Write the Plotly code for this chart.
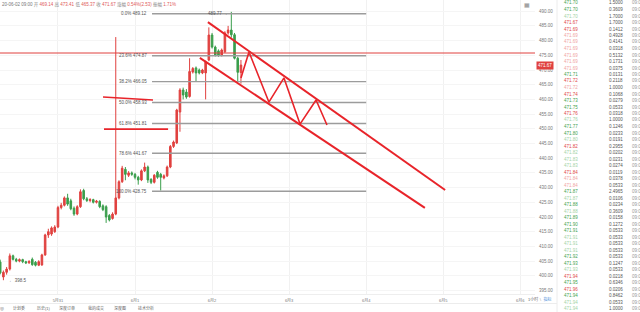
import plotly.graph_objects as go

# ---------------- data ----------------
hours = list(range(-42, 34))  # hourly candles, 0 = 6月1 00:00
opens = [404.7, 399.6, 401.2, 402.3, 406.8, 405.6, 405.0, 405.5, 404.8, 404.4, 405.6, 404.6, 403.6,
         403.7, 407.1, 413.9, 414.2, 415.0, 416.6, 423.2, 424.0, 426.5, 425.5, 423.0, 421.0, 423.5,
         429.0, 426.2, 425.6, 425.9, 425.0, 425.3, 423.8, 423.5, 420.5, 419.5, 421.0, 426.5, 432.0,
         436.2, 434.2, 435.0, 434.5, 433.5, 432.6, 435.7, 437.0, 432.8, 431.8, 435.2, 434.5, 433.3,
         434.0, 437.0, 444.0, 445.2, 455.7, 463.2, 462.5, 461.0, 469.3, 470.7, 470.0, 469.0, 469.0,
         473.4, 481.9, 477.8, 476.5, 475.0, 476.2, 482.6, 483.6, 482.0, 474.0, 469.14]
highs = [405.5, 401.8, 403.0, 407.6, 407.2, 406.1, 405.9, 405.8, 405.1, 405.3, 406.2, 405.0, 405.3,
         407.5, 414.3, 416.0, 416.8, 417.2, 423.8, 424.8, 427.0, 427.9, 426.2, 423.6, 424.0, 429.4,
         429.6, 426.8, 426.4, 426.2, 425.8, 425.7, 424.3, 424.0, 421.0, 421.6, 481.2, 432.5, 437.4,
         437.0, 435.6, 435.5, 435.0, 434.0, 436.2, 438.5, 437.5, 433.2, 434.6, 435.7, 435.0, 434.5,
         437.5, 444.5, 446.0, 456.8, 463.8, 464.0, 463.5, 474.0, 471.0, 471.2, 470.5, 470.4, 473.2,
         484.5, 482.6, 478.3, 477.0, 477.3, 483.2, 485.0, 489.77, 482.6, 474.5, 473.41]
lows = [400.5, 398.5, 400.4, 401.8, 405.2, 404.6, 404.6, 404.3, 404.0, 404.1, 403.4, 403.2, 403.3,
        403.4, 406.8, 412.9, 413.6, 414.6, 416.2, 422.6, 423.6, 423.8, 422.3, 420.4, 420.6, 423.1,
        425.7, 425.1, 425.0, 424.6, 424.6, 423.0, 422.0, 418.0, 418.5, 419.1, 420.6, 426.0, 431.6,
        432.5, 433.6, 434.0, 432.8, 431.0, 432.2, 435.3, 431.6, 431.2, 431.4, 433.0, 429.0, 432.8,
        433.6, 436.6, 443.5, 444.8, 449.0, 460.0, 460.2, 460.6, 468.8, 466.0, 468.5, 468.6, 460.0,
        473.0, 477.3, 474.6, 474.5, 474.6, 475.8, 482.0, 481.0, 473.6, 466.2, 465.37]
closes = [401.0, 401.2, 402.3, 406.8, 405.6, 405.0, 405.5, 404.8, 404.4, 404.9, 403.8, 403.6, 404.8,
          407.1, 413.9, 415.0, 416.3, 416.6, 423.2, 424.0, 426.5, 424.4, 422.8, 421.0, 423.5, 428.6,
          426.2, 425.6, 425.9, 425.0, 425.4, 423.5, 422.5, 420.0, 419.0, 421.0, 426.5, 432.0, 436.6,
          434.5, 435.0, 434.5, 433.5, 432.6, 435.7, 437.0, 432.6, 431.8, 434.2, 433.5, 433.5, 434.0,
          437.0, 444.0, 445.5, 456.4, 463.2, 461.5, 460.8, 469.5, 470.5, 469.0, 469.0, 470.0, 472.7,
          481.9, 477.8, 475.1, 475.0, 476.8, 482.6, 483.6, 482.0, 474.0, 469.2, 471.67]

day_ticks = [-24, 0, 24, 48, 72, 96, 120]
day_labels = ["5月31", "6月1", "6月2", "6月3", "6月4", "6月5", "6月6"]
price_ticks = list(range(395, 491, 5))

fib_pct = ["0.0%", "23.6%", "38.2%", "50.0%", "61.8%", "78.6%", "100.0%"]
fib_vals = [489.12, 474.87, 466.05, 458.93, 451.81, 441.67, 428.75]
fib_span = [5.3, 72.0]
fib_label_h = 4.4

hline_price = 475.78
last_price = 471.67
low_mark = 398.5
high_mark = 489.77

# hand-drawn marks (hour, price)
chan_up_h = [22.7, 96.6]
chan_up_p = [486.3, 429.2]
chan_lo_h = [20.2, 90.3]
chan_lo_p = [474.1, 423.1]
zig_h = [33.0, 35.5, 41.7, 46.4, 51.4, 56.4, 59.8]
zig_p = [467.3, 476.1, 459.1, 467.3, 451.6, 459.8, 451.3]
cross1_h = [-9.97, 5.6]
cross1_p = [460.8, 459.8]
cross2_h = [-9.66, 10.3]
cross2_p = [449.9, 449.9]

header_date = "20-06-02 09:00"
header_items = [("开", "469.14"), ("高", "473.41"), ("低", "465.37"), ("收", "471.67"),
                ("涨幅", "0.54%(2.53)"), ("振幅", "1.71%")]

book_price = ["471.70", "471.70", "471.70", "471.67", "471.69", "471.69", "471.69", "471.69",
              "471.69", "471.69", "471.69", "471.71", "471.72", "471.72", "471.74", "471.73",
              "471.75", "471.76", "471.76", "471.77", "471.80", "471.80", "471.82", "471.82",
              "471.83", "471.83", "471.84", "471.84", "471.84", "471.87", "471.87", "471.88",
              "471.88", "471.89", "471.90", "471.91", "471.91", "471.91", "471.91", "471.92",
              "471.93", "471.93", "471.94", "471.95", "471.96", "471.94", "471.94", "471.94"]
book_side = ["g", "g", "lg", "r", "r", "lr", "lr", "lr", "lr", "lr", "lr", "g", "r", "lr", "r", "g",
             "g", "r", "lg", "g", "g", "lg", "r", "lg", "lg", "lg", "r", "lr", "lr", "g", "lg", "g",
             "lg", "g", "g", "g", "lg", "lg", "lg", "g", "g", "lg", "r", "g", "r", "g", "lg", "lg"]
book_amount = ["1.5000", "0.3609", "1.7000", "1.7000", "0.1412", "0.4928", "0.4141", "0.0318",
               "0.5132", "0.1731", "0.0375", "0.0131", "0.2118", "1.0000", "0.1068", "0.0279",
               "0.0533", "0.0318", "1.0000", "0.1246", "0.0233", "0.0191", "0.2955", "0.0202",
               "0.0231", "0.0274", "0.0119", "0.0378", "0.0533", "2.4965", "0.0106", "0.0234",
               "0.3609", "0.0158", "0.1272", "0.0533", "0.0533", "0.0533", "0.0533", "0.0533",
               "0.1247", "0.0533", "0.0218", "0.6346", "0.0206", "0.8462", "0.0533", "1.0000"]
book_time = "09:0"

toolbar = ["计划委", "历史(1)", "深度订单", "我的成交", "深度图", "技术分析"]
toolbar_px = [19, 44, 67, 96, 120, 146]

# ---------------- styling ----------------
W, H = 640, 312
RED = "#e0413f"
GREEN = "#3a9e4c"
FONT = "Liberation Sans, Arial, Noto Sans CJK SC, sans-serif"
side_col = {"g": "#3fa34f", "lg": "#9fd3a6", "r": "#e04848", "lr": "#f0a3a3"}

def px(x):
    return x / W

def py(y):
    return 1 - y / H

fig = go.Figure()

fig.add_trace(go.Candlestick(
    x=hours, open=opens, high=highs, low=lows, close=closes,
    increasing=dict(line=dict(color=RED, width=1), fillcolor=RED),
    decreasing=dict(line=dict(color=GREEN, width=1), fillcolor=GREEN),
    whiskerwidth=0, showlegend=False, hoverinfo="skip"))

# fibonacci lines
for v in fib_vals:
    fig.add_trace(go.Scatter(x=fib_span, y=[v, v], mode="lines",
                             line=dict(color="#9c9c9c", width=1.4),
                             showlegend=False, hoverinfo="skip"))

# drawn red lines
for hx, hy, w in [(chan_up_h, chan_up_p, 2), (chan_lo_h, chan_lo_p, 2), (zig_h, zig_p, 1.6),
                  (cross1_h, cross1_p, 1.6), (cross2_h, cross2_p, 1.6)]:
    fig.add_trace(go.Scatter(x=hx, y=hy, mode="lines", line=dict(color="#e8242a", width=w),
                             showlegend=False, hoverinfo="skip"))

ann = []
for pct, v in zip(fib_pct, fib_vals):
    ann.append(dict(x=fib_label_h, y=v, xref="x", yref="y", text=f"{pct} {v:.2f}",
                    showarrow=False, xanchor="right", yanchor="middle",
                    font=dict(size=4.5, color="#555", family=FONT)))

i_low = lows.index(low_mark)
i_high = highs.index(high_mark)
ann.append(dict(x=hours[i_low] + 1.0, y=low_mark, xref="x", yref="y", text=f"← {low_mark}",
                showarrow=False, xanchor="left", yanchor="middle",
                font=dict(size=4.5, color="#555", family=FONT)))
ann.append(dict(x=hours[i_high] - 0.3, y=high_mark - 0.6, xref="x", yref="y", text=f"{high_mark} →",
                showarrow=False, xanchor="right", yanchor="middle",
                font=dict(size=4.5, color="#555", family=FONT)))

# header
htxt = f"<span style='color:#777'>{header_date}</span>"
for k, v in header_items:
    htxt += f" <span style='color:#888'>{k}</span> <span style='color:#e05a5a'>{v}</span>"
ann.append(dict(x=0, y=py(4.5), xref="paper", yref="paper", text=htxt, showarrow=False,
                xanchor="left", yanchor="middle", font=dict(size=4.5, family=FONT)))

# calendar icon
ann.append(dict(x=px(527), y=py(4.5), xref="paper", yref="paper", text="▦", showarrow=False,
                xanchor="center", yanchor="middle", font=dict(size=6, color="#888", family="DejaVu Sans")))

# last price tag
ann.append(dict(x=px(545), y=last_price, xref="paper", yref="y", text=f"{last_price:.2f}",
                showarrow=False, xanchor="center", yanchor="middle", bgcolor=RED, borderpad=1,
                font=dict(size=4.5, color="white", family=FONT)))

# order book
for i, (p, s, a) in enumerate(zip(book_price, book_side, book_amount)):
    yy = py(3 + i * 6.5)
    ann.append(dict(x=px(562), y=yy, xref="paper", yref="paper", text=p, showarrow=False,
                    xanchor="left", yanchor="middle", font=dict(size=4.5, color=side_col[s], family=FONT)))
    ann.append(dict(x=px(625), y=yy, xref="paper", yref="paper", text=a, showarrow=False,
                    xanchor="right", yanchor="middle", font=dict(size=4.5, color="#555", family=FONT)))
    ann.append(dict(x=px(629.5), y=yy, xref="paper", yref="paper", text=book_time, showarrow=False,
                    xanchor="left", yanchor="middle", font=dict(size=4.5, color="#999", family=FONT)))

# bottom toolbar
ann.append(dict(x=px(1.5), y=py(308), xref="paper", yref="paper", text="◎", showarrow=False,
                xanchor="center", yanchor="middle", font=dict(size=4.5, color="#666", family="DejaVu Sans")))
for t, xx in zip(toolbar, toolbar_px):
    ann.append(dict(x=px(xx), y=py(308), xref="paper", yref="paper", text=t, showarrow=False,
                    xanchor="center", yanchor="middle", font=dict(size=4, color="#666", family=FONT)))
ann.append(dict(x=px(526), y=py(299), xref="paper", yref="paper",
                text="1小时 <span style='color:#999'>∖</span> <span style='color:#4a90d9'>指标</span>",
                showarrow=False, xanchor="left", yanchor="middle",
                font=dict(size=4, color="#666", family=FONT)))

shapes = [
    dict(type="line", xref="x domain", yref="y", x0=0, x1=1, y0=hline_price, y1=hline_price,
         line=dict(color=RED, width=1)),
    dict(type="line", xref="paper", yref="paper", x0=px(557), x1=px(557), y0=0, y1=1,
         line=dict(color="#ececec", width=1)),
    dict(type="line", xref="paper", yref="paper", x0=0, x1=px(557), y0=py(303.5), y1=py(303.5),
         line=dict(color="#ececec", width=1)),
]

fig.update_layout(
    width=W, height=H, margin=dict(l=0, r=0, t=0, b=0),
    paper_bgcolor="white", plot_bgcolor="white",
    annotations=ann, shapes=shapes, showlegend=False,
    xaxis=dict(domain=[0, 535 / W], range=[-42.06, 124.6], tickvals=day_ticks, ticktext=day_labels,
               showgrid=True, gridcolor="#f1f1f1", gridwidth=1, zeroline=False,
               rangeslider=dict(visible=False), ticks="", ticklabelstandoff=2,
               tickfont=dict(size=4, color="#777", family=FONT),
               showline=True, linecolor="#eeeeee"),
    yaxis=dict(domain=[1 - 294 / H, 1], range=[393.81, 493.81], side="right", tickvals=price_ticks,
               tickformat=".2f", showgrid=True, gridcolor="#f5f5f5", zeroline=False, ticks="",
               ticklabelstandoff=3, tickfont=dict(size=4.5, color="#777", family=FONT)),
)

fig.write_html("out.html")
